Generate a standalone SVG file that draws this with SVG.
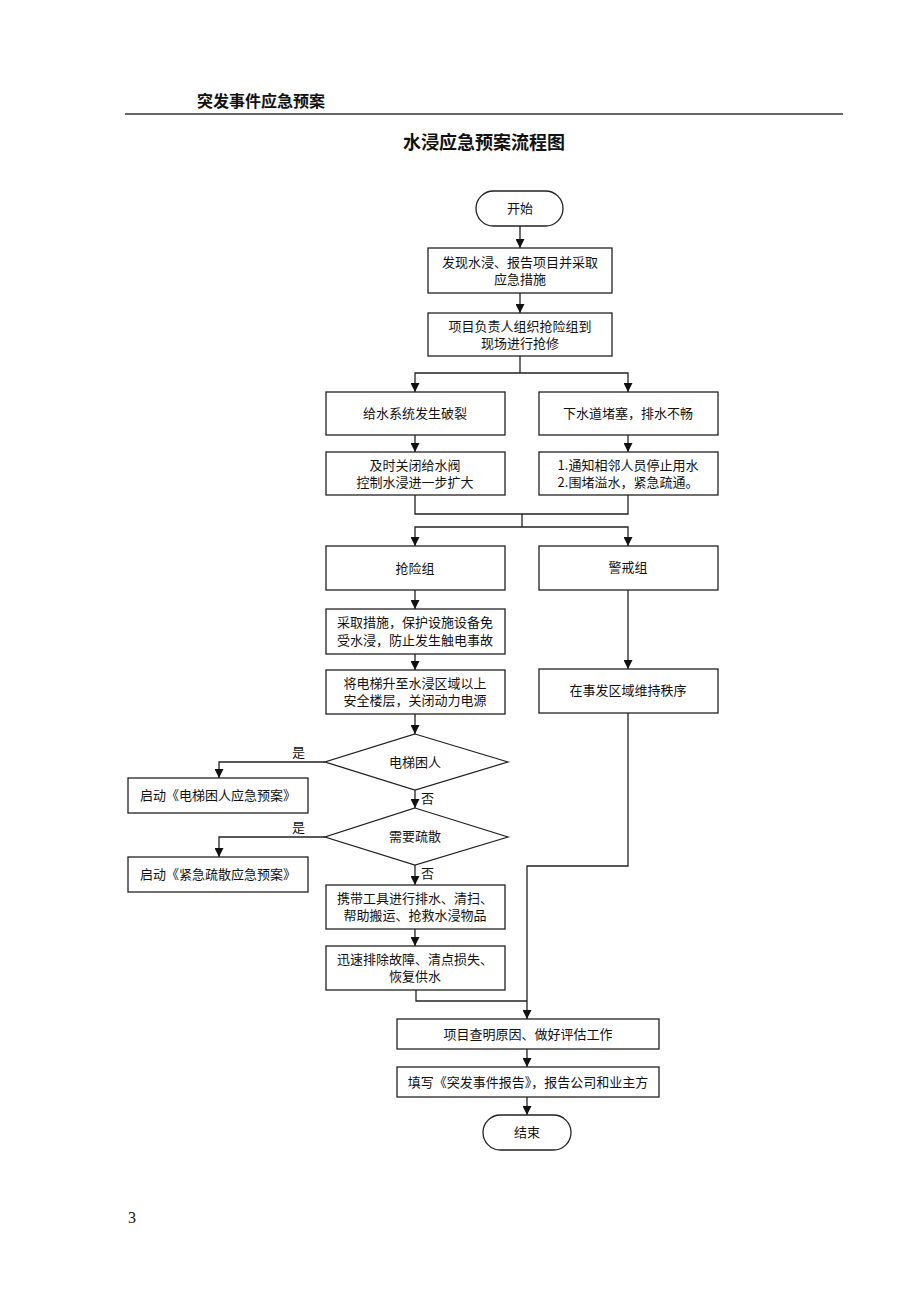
<svg xmlns="http://www.w3.org/2000/svg" width="920" height="1302" viewBox="0 0 920 1302">
<style>
.box{fill:#fff;stroke:#222;stroke-width:1.3}
.ln{fill:none;stroke:#222;stroke-width:1.3}
.arr{fill:none;stroke:#222;stroke-width:1.3;marker-end:url(#ah)}
.t{font-family:"Noto Sans CJK SC","Liberation Sans",sans-serif;font-size:13px;fill:#111;text-anchor:middle}
.lbl{font-family:"Noto Sans CJK SC","Liberation Sans",sans-serif;font-size:13px;fill:#111}
</style>
<defs>
<marker id="ah" viewBox="0 0 10 10" refX="10" refY="5" markerWidth="9" markerHeight="9" markerUnits="userSpaceOnUse" orient="auto">
<path d="M0,0 L10,5 L0,10 z" fill="#111"/>
</marker>
</defs>
<rect width="920" height="1302" fill="#fff"/>
<g id="header">
<text x="197" y="107" font-family="Noto Sans CJK SC, sans-serif" font-size="16" font-weight="bold" fill="#111">突发事件应急预案</text>
<line x1="125" y1="114" x2="843" y2="114" stroke="#666" stroke-width="2"/>
<text x="484" y="149" font-family="Noto Sans CJK SC, sans-serif" font-size="18" font-weight="bold" fill="#111" text-anchor="middle">水浸应急预案流程图</text>
</g>
<g id="connectors">
<line class="arr" x1="520" y1="226" x2="520" y2="248"/>
<line class="arr" x1="520" y1="293" x2="520" y2="313"/>
<polyline class="ln" points="520,356 520,373"/>
<polyline class="arr" points="520,373 415,373 415,392"/>
<polyline class="arr" points="520,373 628,373 628,392"/>
<line class="arr" x1="415" y1="435" x2="415" y2="452"/>
<line class="arr" x1="628" y1="435" x2="628" y2="452"/>
<polyline class="ln" points="415,495 415,514 628,514 628,495"/>
<line class="ln" x1="522" y1="514" x2="522" y2="527"/>
<polyline class="arr" points="522,527 415,527 415,546"/>
<polyline class="arr" points="522,527 628,527 628,546"/>
<line class="arr" x1="415" y1="590" x2="415" y2="609"/>
<line class="arr" x1="415" y1="654" x2="415" y2="670"/>
<line class="arr" x1="415" y1="714" x2="415" y2="734"/>
<polyline class="arr" points="325,762 219,762 219,778"/>
<line class="arr" x1="415" y1="790" x2="415" y2="808"/>
<polyline class="arr" points="325,837 219,837 219,857"/>
<line class="arr" x1="415" y1="865" x2="415" y2="885"/>
<line class="arr" x1="415" y1="929" x2="415" y2="946"/>
<polyline class="ln" points="416,990 416,1001 527,1001"/>
<line class="arr" x1="628" y1="590" x2="628" y2="669"/>
<polyline class="arr" points="628,713 628,866 527,866 527,1019"/>
<line class="arr" x1="527" y1="1049" x2="527" y2="1067"/>
<line class="arr" x1="527" y1="1097" x2="527" y2="1115"/>
<text class="lbl" x="292" y="757">是</text>
<text class="lbl" x="421" y="803">否</text>
<text class="lbl" x="292" y="832">是</text>
<text class="lbl" x="421" y="878">否</text>
</g>
<g id="start">
<rect class="box" x="476" y="191" width="87" height="35" rx="17.5"/>
<text class="t" x="520" y="213">开始</text>
</g>
<g id="n1">
<rect class="box" x="428" y="248" width="184" height="45"/>
<text class="t" x="520" y="267">发现水浸、报告项目并采取</text>
<text class="t" x="520" y="284">应急措施</text>
</g>
<g id="n2">
<rect class="box" x="428" y="313" width="184" height="43"/>
<text class="t" x="520" y="331">项目负责人组织抢险组到</text>
<text class="t" x="520" y="348">现场进行抢修</text>
</g>
<g id="n3">
<rect class="box" x="326" y="392" width="179" height="43"/>
<text class="t" x="415" y="418">给水系统发生破裂</text>
</g>
<g id="n4">
<rect class="box" x="539" y="392" width="179" height="43"/>
<text class="t" x="628" y="418">下水道堵塞，排水不畅</text>
</g>
<g id="n5">
<rect class="box" x="326" y="452" width="179" height="43"/>
<text class="t" x="415" y="470">及时关闭给水阀</text>
<text class="t" x="415" y="487">控制水浸进一步扩大</text>
</g>
<g id="n6">
<rect class="box" x="539" y="452" width="179" height="43"/>
<text class="t" x="628" y="470">1.通知相邻人员停止用水</text>
<text class="t" x="628" y="487">2.围堵溢水，紧急疏通。</text>
</g>
<g id="n7">
<rect class="box" x="326" y="546" width="179" height="44"/>
<text class="t" x="415" y="573">抢险组</text>
</g>
<g id="n8">
<rect class="box" x="539" y="546" width="179" height="44"/>
<text class="t" x="628" y="572">警戒组</text>
</g>
<g id="n9">
<rect class="box" x="326" y="609" width="179" height="45"/>
<text class="t" x="415" y="627">采取措施，保护设施设备免</text>
<text class="t" x="415" y="645">受水浸，防止发生触电事故</text>
</g>
<g id="n10">
<rect class="box" x="326" y="670" width="179" height="44"/>
<text class="t" x="415" y="688">将电梯升至水浸区域以上</text>
<text class="t" x="415" y="705">安全楼层，关闭动力电源</text>
</g>
<g id="d1">
<polygon class="box" points="415,734 508,762 415,790 325,762"/>
<text class="t" x="415" y="767">电梯困人</text>
</g>
<g id="n11">
<rect class="box" x="128" y="778" width="180" height="35"/>
<text class="t" x="218" y="800">启动《电梯困人应急预案》</text>
</g>
<g id="d2">
<polygon class="box" points="415,808 508,837 415,865 325,837"/>
<text class="t" x="415" y="841">需要疏散</text>
</g>
<g id="n12">
<rect class="box" x="128" y="857" width="180" height="35"/>
<text class="t" x="218" y="879">启动《紧急疏散应急预案》</text>
</g>
<g id="n13">
<rect class="box" x="326" y="885" width="179" height="44"/>
<text class="t" x="415" y="903">携带工具进行排水、清扫、</text>
<text class="t" x="415" y="920">帮助搬运、抢救水浸物品</text>
</g>
<g id="n14">
<rect class="box" x="326" y="946" width="179" height="44"/>
<text class="t" x="415" y="964">迅速排除故障、清点损失、</text>
<text class="t" x="415" y="981">恢复供水</text>
</g>
<g id="n15">
<rect class="box" x="539" y="669" width="179" height="44"/>
<text class="t" x="628" y="695">在事发区域维持秩序</text>
</g>
<g id="n16">
<rect class="box" x="397" y="1019" width="262" height="30"/>
<text class="t" x="528" y="1039">项目查明原因、做好评估工作</text>
</g>
<g id="n17">
<rect class="box" x="397" y="1067" width="262" height="30"/>
<text class="t" x="528" y="1087">填写《突发事件报告》，报告公司和业主方</text>
</g>
<g id="end">
<rect class="box" x="483" y="1115" width="88" height="35" rx="17.5"/>
<text class="t" x="527" y="1137">结束</text>
</g>
<g id="footer">
<text x="128" y="1223" font-family="Liberation Serif, serif" font-size="16" fill="#111">3</text>
</g>
</svg>
